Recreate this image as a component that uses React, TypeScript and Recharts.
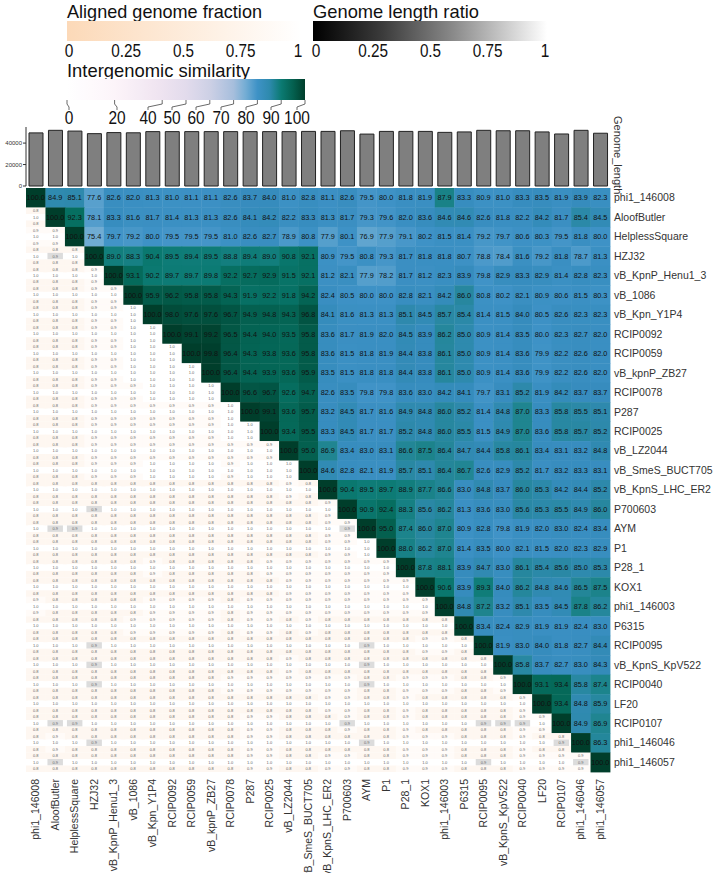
import { ScatterChart, Scatter, XAxis, YAxis, BarChart, Bar } from "recharts";

// genomes, in the order used on both axes
const genomes = [
  "phi1_146008", "AloofButler", "HelplessSquare", "HZJ32", "vB_KpnP_Henu1_3", "vB_1086",
  "vB_Kpn_Y1P4", "RCIP0092", "RCIP0059", "vB_kpnP_ZB27", "RCIP0078", "P287", "RCIP0025",
  "vB_LZ2044", "vB_SmeS_BUCT705", "vB_KpnS_LHC_ER2", "P700603", "AYM", "P1", "P28_1", "KOX1",
  "phi1_146003", "P6315", "RCIP0095", "vB_KpnS_KpV522", "RCIP0040", "LF20", "RCIP0107",
  "phi1_146046", "phi1_146057",
];

const genomeLength = [
  49500, 51900, 51200, 48800, 49800, 49600, 50700, 50700, 50700, 50700, 50700, 50700, 50700,
  50700, 50900, 50900, 51500, 48400, 50900, 50900, 50900, 50000, 50400, 51900, 51500, 51500,
  50400, 48500, 51900, 49200,
];

// intergenomic similarity, each row starts on the diagonal
const simRows: number[][] = [
  [100.0, 84.9, 85.1, 77.6, 82.6, 82.0, 81.3, 81.0, 81.1, 81.1, 82.6, 83.7, 84.0, 81.0, 82.8, 81.1, 82.6, 79.5, 80.0, 81.8, 81.9, 87.9, 83.3, 80.9, 81.0, 83.3, 83.5, 81.9, 83.9, 82.3],
  [100.0, 92.3, 78.1, 83.3, 81.6, 81.7, 81.4, 81.3, 81.3, 82.6, 84.1, 84.2, 82.2, 83.3, 81.3, 81.7, 79.3, 79.6, 82.0, 83.6, 84.6, 84.6, 82.6, 81.8, 82.2, 84.2, 81.7, 85.4, 84.5],
  [100.0, 75.4, 79.7, 79.2, 80.0, 79.5, 79.5, 79.5, 81.0, 82.6, 82.7, 78.9, 80.8, 77.9, 80.1, 76.9, 77.9, 79.1, 80.2, 81.5, 81.4, 79.2, 79.7, 80.6, 80.3, 79.5, 81.8, 80.0],
  [100.0, 89.0, 88.3, 90.4, 89.5, 89.4, 89.5, 88.8, 89.4, 89.0, 90.8, 92.1, 80.9, 79.5, 80.8, 79.3, 81.7, 81.8, 81.8, 80.7, 78.8, 78.4, 81.6, 79.2, 81.8, 78.7, 81.3],
  [100.0, 93.1, 90.2, 89.7, 89.7, 89.8, 92.2, 92.7, 92.9, 91.5, 92.1, 81.2, 82.1, 77.9, 78.2, 81.7, 81.2, 82.3, 83.9, 79.8, 82.9, 83.3, 82.9, 81.4, 82.8, 82.3],
  [100.0, 95.9, 96.2, 95.8, 95.8, 94.3, 91.9, 92.2, 91.8, 94.2, 82.4, 80.5, 80.0, 80.0, 82.8, 82.1, 84.2, 86.0, 80.8, 80.2, 82.1, 80.9, 80.6, 81.5, 80.3],
  [100.0, 98.0, 97.6, 97.6, 96.7, 94.9, 94.8, 94.3, 96.8, 84.1, 81.6, 81.3, 81.3, 85.1, 84.5, 85.7, 85.4, 81.4, 81.5, 84.0, 80.5, 82.6, 82.3, 82.3],
  [100.0, 99.1, 99.2, 96.5, 94.4, 94.0, 93.5, 95.8, 83.6, 81.7, 81.9, 82.0, 84.5, 83.9, 86.2, 85.0, 80.9, 81.4, 83.5, 80.0, 82.3, 82.7, 82.0],
  [100.0, 99.8, 96.4, 94.3, 93.8, 93.6, 95.8, 83.6, 81.5, 81.8, 81.9, 84.4, 83.8, 86.1, 85.0, 80.9, 81.4, 83.6, 79.9, 82.2, 82.6, 82.0],
  [100.0, 96.4, 94.4, 93.9, 93.6, 95.9, 83.5, 81.5, 81.8, 81.8, 84.4, 83.8, 86.1, 85.0, 80.9, 81.4, 83.6, 79.9, 82.2, 82.6, 82.0],
  [100.0, 96.6, 96.7, 92.6, 94.7, 82.6, 83.5, 79.8, 79.8, 83.6, 83.0, 84.2, 84.1, 79.7, 83.1, 85.2, 81.9, 84.2, 83.7, 83.7],
  [100.0, 99.1, 93.6, 95.7, 83.2, 84.5, 81.7, 81.6, 84.9, 84.8, 86.0, 85.2, 81.4, 84.8, 87.0, 83.3, 85.8, 85.5, 85.1],
  [100.0, 93.4, 95.5, 83.3, 84.5, 81.7, 81.7, 85.2, 84.8, 86.0, 85.5, 81.5, 84.9, 87.0, 83.6, 85.8, 85.7, 85.2],
  [100.0, 95.0, 86.9, 83.4, 83.0, 83.1, 86.6, 87.5, 86.4, 84.7, 84.4, 85.8, 86.1, 83.4, 83.1, 83.2, 84.8],
  [100.0, 84.6, 82.8, 82.1, 81.9, 85.7, 85.1, 86.4, 86.7, 82.6, 82.9, 85.2, 81.7, 83.2, 83.3, 83.1],
  [100.0, 90.4, 89.5, 89.7, 88.9, 87.7, 86.6, 83.0, 84.8, 83.7, 86.0, 85.3, 84.2, 84.4, 85.2],
  [100.0, 90.9, 92.4, 88.3, 85.6, 86.2, 81.3, 83.6, 83.0, 85.6, 85.3, 85.5, 84.9, 86.0],
  [100.0, 95.0, 87.4, 86.0, 87.0, 80.9, 82.8, 79.8, 81.9, 82.0, 83.0, 82.4, 83.4],
  [100.0, 88.0, 86.2, 87.0, 81.4, 83.5, 80.0, 82.1, 81.5, 82.0, 82.3, 82.9],
  [100.0, 87.8, 88.1, 83.9, 84.7, 83.0, 86.1, 85.4, 85.6, 85.0, 85.3],
  [100.0, 90.6, 83.9, 89.3, 84.0, 86.2, 84.8, 84.6, 86.5, 87.5],
  [100.0, 84.8, 87.2, 83.2, 85.1, 83.5, 84.5, 87.8, 86.2],
  [100.0, 83.4, 82.4, 82.9, 81.9, 81.9, 82.4, 83.0],
  [100.0, 81.9, 83.0, 84.0, 81.8, 82.7, 84.4],
  [100.0, 85.8, 83.7, 82.7, 83.0, 84.3],
  [100.0, 93.1, 93.4, 85.8, 87.4],
  [100.0, 93.4, 84.8, 85.9],
  [100.0, 84.9, 86.9],
  [100.0, 86.3],
  [100.0],
];

const fractionTicks = [0, 0.25, 0.5, 0.75, 1];
const simTicks = [0, 20, 40, 50, 60, 70, 80, 90, 100];
const lengthTicks = [0, 20000, 40000];

const FONT = "'Liberation Sans', Arial, sans-serif";
const N = genomes.length;
const PLOT_L = 26;
const PLOT_R = 610;
const PLOT_T = 188;
const PLOT_B = 772;
const CW = (PLOT_R - PLOT_L) / N;
const CH = (PLOT_B - PLOT_T) / N;

const simStops: [number, string][] = [
  [0, "#ffffff"], [20, "#fcf4f9"], [40, "#eee3f0"], [50, "#e2dbec"], [60, "#cdd0e5"],
  [70, "#a6bedc"], [76, "#6aaad2"], [80, "#3e92c6"], [84, "#368cbd"], [87, "#1f8590"],
  [90, "#0b7a72"], [93, "#056b5c"], [96, "#035a49"], [100, "#003e2b"],
];

const hex = (c: string) => [1, 3, 5].map((i) => parseInt(c.slice(i, i + 2), 16));
const mix = (a: string, b: string, t: number) => {
  const A = hex(a), B = hex(b);
  return `rgb(${A.map((v, i) => Math.round(v + (B[i] - v) * t)).join(",")})`;
};

function simColor(v: number) {
  for (let i = 1; i < simStops.length; i++) {
    const [v1, c1] = simStops[i];
    const [v0, c0] = simStops[i - 1];
    if (v <= v1) return mix(c0, c1, (v - v0) / (v1 - v0));
  }
  return simStops[simStops.length - 1][1];
}

const sim = (a: number, b: number) => (a <= b ? simRows[a][b - a] : simRows[b][a - b]);

const cells: any[] = [];
for (let r = 0; r < N; r++) {
  for (let c = 0; c < N; c++) {
    const s = sim(r, c);
    const ratio = Math.min(genomeLength[r], genomeLength[c]) / Math.max(genomeLength[r], genomeLength[c]);
    cells.push({
      x: c, y: r, sim: s,
      frac: Math.min(1, Math.round(s / 10) / 10),
      ratio: Math.round(ratio * 10) / 10,
    });
  }
}

const barData = genomes.map((name, i) => ({ name, length: genomeLength[i] }));

function CellShape(props: any) {
  const { cx, cy, payload } = props;
  const x0 = cx - CW / 2;
  const y0 = cy - CH / 2;
  if (payload.x >= payload.y) {
    return (
      <g>
        <rect x={x0} y={y0} width={CW + 0.4} height={CH + 0.4} fill={simColor(payload.sim)} />
        <text x={cx} y={cy} dy="0.35em" textAnchor="middle" fontSize={7.3} fontFamily={FONT} fill="#111">
          {payload.sim.toFixed(1)}
        </text>
      </g>
    );
  }
  const band = CH / 3;
  const fracFill = mix("#fcd9b8", "#ffffff", payload.frac);
  const ratioFill = payload.ratio < 1 ? "#dcdcdc" : "#ffffff";
  const lines = [payload.frac.toFixed(1), payload.ratio.toFixed(1), payload.frac.toFixed(1)];
  return (
    <g>
      <rect x={x0} y={y0} width={CW + 0.4} height={band} fill={fracFill} />
      <rect x={x0 + 2} y={y0 + band} width={CW - 4} height={band} fill={ratioFill} />
      <rect x={x0} y={y0 + 2 * band} width={CW + 0.4} height={band} fill={fracFill} />
      {lines.map((t, i) => (
        <text key={i} x={cx} y={y0 + band * (i + 0.5)} dy="0.35em" textAnchor="middle" fontSize={4} fontFamily={FONT} fill="#666">
          {t}
        </text>
      ))}
    </g>
  );
}

function BottomTick(props: any) {
  const { x, y, payload } = props;
  return (
    <text transform={`translate(${x},${y + 5}) rotate(-90)`} dy="0.35em" textAnchor="end" fontSize={10.5} fontFamily={FONT} fill="#333">
      {genomes[payload.value]}
    </text>
  );
}

function RightTick(props: any) {
  const { x, y, payload } = props;
  return (
    <text x={x + 2} y={y} dy="0.35em" textAnchor="start" fontSize={10.5} fontFamily={FONT} fill="#333">
      {genomes[payload.value]}
    </text>
  );
}

// rough widths for the condensed legend digits
const labelWidth = (s: string) => s.split("").reduce((w, ch) => w + (ch === "." ? 4 : 8.6), 0);

function Legends() {
  const fx = (v: number) => 69 + v * 229;
  const gx = (v: number) => 316 + v * 229;
  const sx0 = 67, sx1 = 305;
  const simBarX = (v: number) => sx0 + ((sx1 - sx0) * v) / 100;
  const simLabelX = [69, 117, 148, 172, 196, 221, 246, 271, 297];
  return (
    <svg width={717} height={873} style={{ position: "absolute", left: 0, top: 0, pointerEvents: "none" }}>
      <defs>
        <linearGradient id="fracGrad" x1="0" x2="1" y1="0" y2="0">
          <stop offset="0" stopColor="#fcd9b8" />
          <stop offset="1" stopColor="#ffffff" />
        </linearGradient>
        <linearGradient id="ratioGrad" x1="0" x2="1" y1="0" y2="0">
          <stop offset="0" stopColor="#000000" />
          <stop offset="0.3" stopColor="#3c3c3c" />
          <stop offset="0.6" stopColor="#8a8a8a" />
          <stop offset="1" stopColor="#ffffff" />
        </linearGradient>
        <linearGradient id="simGrad" x1="0" x2="1" y1="0" y2="0">
          {Array.from({ length: 21 }, (_, i) => (
            <stop key={i} offset={i / 20} stopColor={simColor(i * 5)} />
          ))}
        </linearGradient>
      </defs>
      <g fontFamily={FONT} fill="#111">
        <text x={67} y={18} fontSize={19} textLength={195} lengthAdjust="spacingAndGlyphs">Aligned genome fraction</text>
        <rect x={67} y={21} width={234} height={20} fill="url(#fracGrad)" />
        {fractionTicks.map((t) => (
          <text key={t} x={fx(t)} y={57} fontSize={18} textAnchor="middle" textLength={labelWidth(String(t))} lengthAdjust="spacingAndGlyphs">{String(t)}</text>
        ))}
        <text x={313} y={18} fontSize={19} textLength={166} lengthAdjust="spacingAndGlyphs">Genome length ratio</text>
        <rect x={313} y={21} width={234} height={20} fill="url(#ratioGrad)" />
        {fractionTicks.map((t) => (
          <text key={t} x={gx(t)} y={57} fontSize={18} textAnchor="middle" textLength={labelWidth(String(t))} lengthAdjust="spacingAndGlyphs">{String(t)}</text>
        ))}
        <text x={67} y={77} fontSize={19} textLength={183} lengthAdjust="spacingAndGlyphs">Intergenomic similarity</text>
        <rect x={sx0} y={79} width={sx1 - sx0} height={21} fill="url(#simGrad)" />
        {simTicks.map((t, i) => (
          <g key={t}>
            <polyline
              points={`${simBarX(t)},${100} ${simBarX(t)},${104} ${simLabelX[i]},${107} ${simLabelX[i]},${110}`}
              fill="none" stroke="#444" strokeWidth={0.8}
            />
            <text x={simLabelX[i]} y={124} fontSize={18} textAnchor="middle" textLength={labelWidth(String(t))} lengthAdjust="spacingAndGlyphs">{String(t)}</text>
          </g>
        ))}
        <text transform="translate(614,116) rotate(90)" fontSize={11} fill="#333">Genome_length</text>
      </g>
    </svg>
  );
}

export default function App() {
  return (
    <div style={{ position: "absolute", left: 0, top: 0, width: 717, height: 873, background: "#fff" }}>
      <div style={{ position: "absolute", left: 0, top: 115 }}>
        <BarChart width={717} height={80} data={barData} margin={{ top: 12, right: 717 - PLOT_R, bottom: 9, left: 0 }} barSize={14}>
          <XAxis dataKey="name" hide />
          <YAxis
            width={PLOT_L}
            domain={[0, 55000]}
            ticks={lengthTicks}
            tick={{ fontSize: 6, fill: "#333", fontFamily: FONT }}
            tickSize={3}
            tickMargin={1}
            stroke="#333"
            interval={0}
          />
          <Bar dataKey="length" fill="#7f7f7f" stroke="#222" strokeWidth={1} isAnimationActive={false} />
        </BarChart>
      </div>
      <div style={{ position: "absolute", left: 0, top: 0 }}>
        <ScatterChart width={717} height={873} margin={{ top: PLOT_T, right: 717 - PLOT_R - 100, bottom: 873 - PLOT_B - 75, left: PLOT_L }}>
          <XAxis
            type="number"
            dataKey="x"
            domain={[-0.5, N - 0.5]}
            ticks={genomes.map((_, i) => i)}
            interval={0}
            height={75}
            axisLine={false}
            tickLine={false}
            tickSize={0}
            tick={<BottomTick />}
          />
          <YAxis
            type="number"
            dataKey="y"
            orientation="right"
            reversed
            domain={[-0.5, N - 0.5]}
            ticks={genomes.map((_, i) => i)}
            interval={0}
            width={100}
            axisLine={false}
            tickLine={false}
            tickSize={0}
            tick={<RightTick />}
          />
          <Scatter data={cells} shape={<CellShape />} isAnimationActive={false} />
        </ScatterChart>
      </div>
      <Legends />
    </div>
  );
}
